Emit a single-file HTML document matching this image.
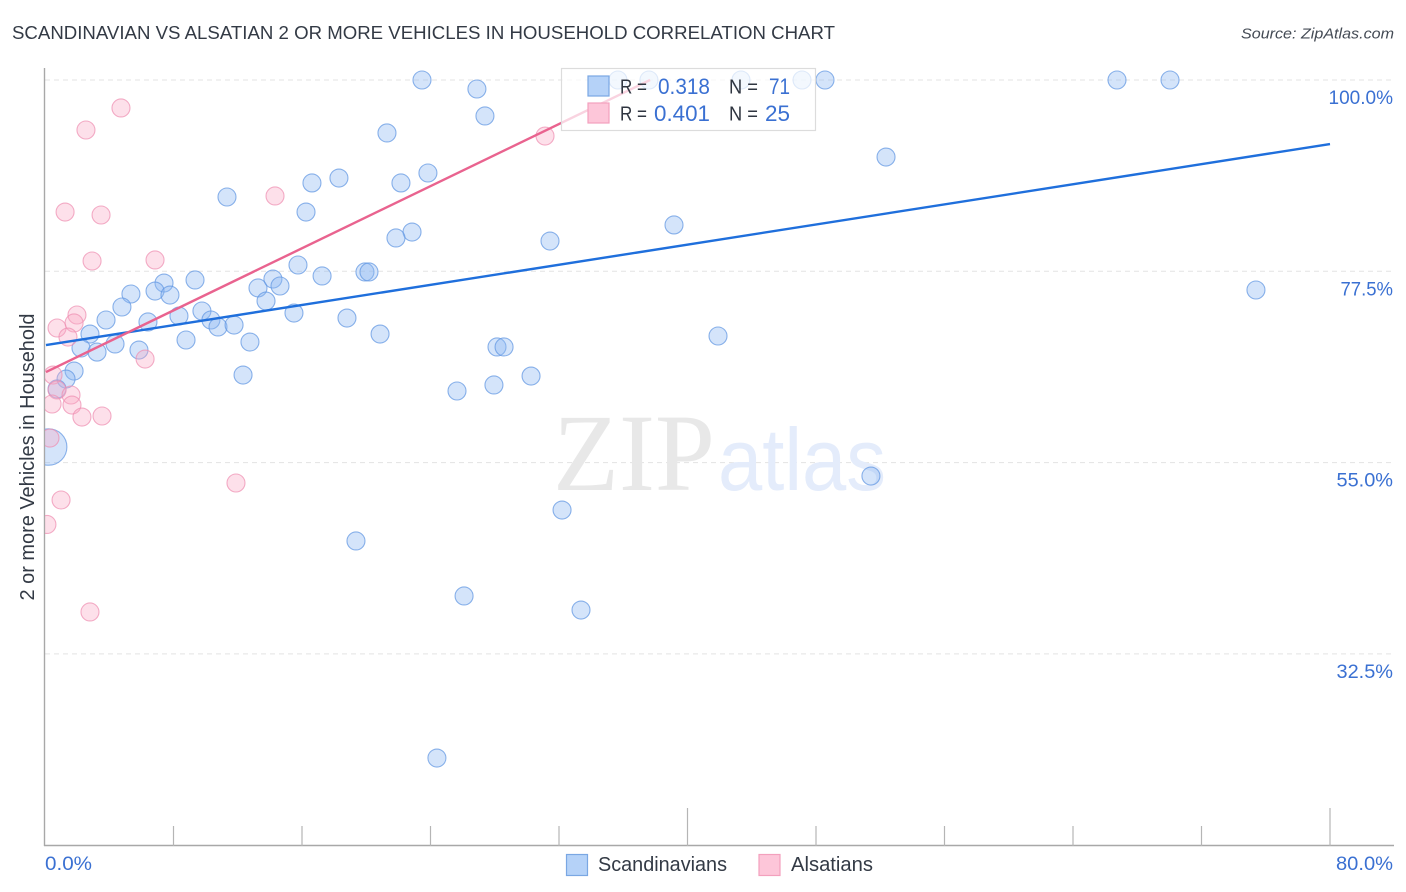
<!DOCTYPE html>
<html lang="en">
<head>
<meta charset="utf-8">
<title>Scandinavian vs Alsatian 2 or more vehicles in household correlation chart</title>
<style>
html,body{margin:0;padding:0;background:#fff;}
svg{display:block;font-family:"Liberation Sans",sans-serif;}
</style>
</head>
<body>
<svg id="chart" xmlns="http://www.w3.org/2000/svg" width="1406" height="892" viewBox="0 0 1406 892">
  <defs>
    <clipPath id="plot-clip"><rect x="45" y="60" width="1349" height="786"/></clipPath>
  </defs>
  <rect x="0" y="0" width="1406" height="892" fill="#ffffff"/>
  <text x="12" y="39" font-size="18.5" fill="#333a45" textLength="823" lengthAdjust="spacingAndGlyphs">SCANDINAVIAN VS ALSATIAN 2 OR MORE VEHICLES IN HOUSEHOLD CORRELATION CHART</text>
  <text x="1394" y="38.5" font-size="15" font-style="italic" fill="#444b55" text-anchor="end" textLength="153" lengthAdjust="spacingAndGlyphs">Source: ZipAtlas.com</text>
  <text transform="translate(34,457) rotate(-90)" font-size="20" fill="#333a45" text-anchor="middle" textLength="287" lengthAdjust="spacingAndGlyphs">2 or more Vehicles in Household</text>

  <g id="grid"></g>

  <g>
    <text x="553" y="490" font-family="'Liberation Serif',serif" font-size="110" fill="#e8e8e8" textLength="162" lengthAdjust="spacingAndGlyphs">ZIP</text>
    <text x="718" y="490" font-size="88" fill="#e4ecfb" textLength="168" lengthAdjust="spacingAndGlyphs">atlas</text>
  </g>

  <g id="axes"></g>
  <g id="points" clip-path="url(#plot-clip)"></g>
  <g id="trends"></g>
  <g id="tick-labels"></g>

  <g>
    <rect x="561.5" y="68.5" width="254" height="62" fill="#ffffff" fill-opacity="0.72" stroke="#dcdcdc" stroke-width="1.2"/>
    <rect x="588" y="76" width="21" height="20" fill="#b5d2f8" stroke="#7aa7e3" stroke-width="1.2"/>
    <rect x="588" y="103" width="21" height="20" fill="#fdc6d9" stroke="#f3a0bd" stroke-width="1.2"/>
    <text x="620" y="93.5" font-size="20" fill="#2f3540" textLength="27" lengthAdjust="spacingAndGlyphs">R =</text>
    <text x="658" y="94" font-size="22" fill="#3a70d2" textLength="52" lengthAdjust="spacingAndGlyphs">0.318</text>
    <text x="729" y="93.5" font-size="20" fill="#2f3540" textLength="29" lengthAdjust="spacingAndGlyphs">N =</text>
    <text x="769" y="94" font-size="22" fill="#3a70d2" textLength="21" lengthAdjust="spacingAndGlyphs">71</text>
    <text x="620" y="120.5" font-size="20" fill="#2f3540" textLength="27" lengthAdjust="spacingAndGlyphs">R =</text>
    <text x="654" y="121" font-size="22" fill="#3a70d2" textLength="56" lengthAdjust="spacingAndGlyphs">0.401</text>
    <text x="729" y="120.5" font-size="20" fill="#2f3540" textLength="29" lengthAdjust="spacingAndGlyphs">N =</text>
    <text x="765" y="121" font-size="22" fill="#3a70d2" textLength="25" lengthAdjust="spacingAndGlyphs">25</text>
  </g>

  <g>
    <rect x="566.5" y="854.5" width="21" height="21" fill="#b5d2f8" stroke="#7aa7e3" stroke-width="1.2"/>
    <text x="598" y="871" font-size="20" fill="#333a45" textLength="129" lengthAdjust="spacingAndGlyphs">Scandinavians</text>
    <rect x="759" y="854.5" width="21" height="21" fill="#fdc6d9" stroke="#f3a0bd" stroke-width="1.2"/>
    <text x="791" y="871" font-size="20" fill="#333a45" textLength="82" lengthAdjust="spacingAndGlyphs">Alsatians</text>
  </g>
</svg>
<script>
const yTickValues = [100, 77.5, 55, 32.5];
const yTickLabels = ["100.0%", "77.5%", "55.0%", "32.5%"];
const xTickValues = [0, 8, 16, 24, 32, 40, 48, 56, 64, 72, 80];
const xMajorTicks = [40, 80];
const xEndLabels = ["0.0%", "80.0%"];

const scandinavianX = [23.47,26.89,27.39,21.29,35.67,37.60,43.33,47.13,48.56,66.74,70.04,52.36,23.84,22.16,18.30,16.62,11.33,16.25,22.85,21.85,31.44,39.16,15.75,17.25,19.92,20.17,9.34,7.41,6.85,7.78,5.35,4.79,13.26,14.19,14.63,13.76,15.50,18.80,20.86,9.77,8.34,6.41,3.80,2.80,10.33,10.77,11.77,8.78,12.76,4.36,2.24,3.24,5.85,1.81,1.31,0.75,28.14,28.58,41.90,75.39,12.33,30.26,27.95,25.65,51.42,32.19,19.36,26.09,33.37,24.40,0.23];
const scandinavianY = [100,98.94,95.77,93.77,100,100,100,100,100,100,100,90.94,89.06,87.89,88.47,87.89,86.24,84.47,82.12,81.42,81.06,82.95,78.24,76.95,77.42,77.42,76.48,76.12,75.18,74.71,74.83,73.30,75.54,76.59,75.77,74.00,72.59,72.00,70.12,72.83,72.24,71.54,71.77,70.12,71.77,70.95,71.18,69.42,69.18,68.95,68.48,68.00,68.24,65.77,64.83,63.66,68.60,68.60,69.89,75.30,65.30,65.18,64.13,63.42,53.42,49.42,45.78,39.31,37.66,20.25,56.83];
const alsatianX = [4.73,2.55,31.13,1.25,3.49,14.32,2.93,6.85,1.99,1.81,0.75,1.43,6.23,0.50,0.75,1.62,0.44,1.68,2.30,3.55,0.31,11.89,1.00,2.80,0.12];
const alsatianY = [96.71,94.12,93.41,84.47,84.12,86.36,78.71,78.83,72.36,71.42,70.83,69.77,67.18,65.30,63.54,62.95,61.89,61.77,60.36,60.48,57.89,52.60,50.60,37.43,47.72];
const largeScandinavianPoint = 70;

const scandinavianTrendX = [0.06, 80];
const scandinavianTrendY = [68.82, 92.47];
const alsatianTrendX = [0.06, 37.67];
const alsatianTrendY = [65.65, 100];

function xScale(v) { return 45 + v * 16.0625; }
function yScale(v) { return 80 + (100 - v) * 8.502; }

function fittedWidth(text) {
  let w = 0;
  for (const ch of text) {
    if (ch === "%") w += 17;
    else if (ch === ".") w += 5;
    else if (ch === "1") w += 8;
    else if (ch === "7") w += 9.5;
    else w += 11.5;
  }
  return w;
}

const NS = "http://www.w3.org/2000/svg";
function make(tag, parentId, attrs) {
  const el = document.createElementNS(NS, tag);
  for (const k in attrs) el.setAttribute(k, attrs[k]);
  document.getElementById(parentId).appendChild(el);
  return el;
}

yTickValues.forEach(function (v, i) {
  const line = make("line", "grid", {x1: 45, x2: 1394, y1: yScale(v), y2: yScale(v), stroke: "#e3e3e3", "stroke-width": 1, "stroke-dasharray": "5 4"});
  
  
  const label = make("text", "tick-labels", {x: 1393, y: yScale(v) + 24, "font-size": 19.5, fill: "#3a70d2", "text-anchor": "end", textLength: fittedWidth(yTickLabels[i]), lengthAdjust: "spacingAndGlyphs"});
  label.textContent = yTickLabels[i];
  
  
});

const yAxis = make("line", "axes", {x1: 44.5, x2: 44.5, y1: 68, y2: 846, stroke: "#a8a8a8", "stroke-width": 1.4});


const xAxis = make("line", "axes", {x1: 44, x2: 1394, y1: 845.5, y2: 845.5, stroke: "#a8a8a8", "stroke-width": 1.4});



xTickValues.slice(1).forEach(function (v) {
  const top = xMajorTicks.indexOf(v) >= 0 ? 808 : 826;
  const tick = make("line", "axes", {x1: xScale(v), x2: xScale(v), y1: top, y2: 846, stroke: "#b5b5b5", "stroke-width": 1.2});
  
  
});

const xLabelLeft = make("text", "tick-labels", {x: 45, y: 870, "font-size": 19.5, fill: "#3a70d2", textLength: 47, lengthAdjust: "spacingAndGlyphs"});
xLabelLeft.textContent = xEndLabels[0];


const xLabelRight = make("text", "tick-labels", {x: 1393, y: 870, "font-size": 19.5, fill: "#3a70d2", "text-anchor": "end", textLength: 57, lengthAdjust: "spacingAndGlyphs"});
xLabelRight.textContent = xEndLabels[1];



scandinavianX.forEach(function (x, i) {
  const r = i === largeScandinavianPoint ? 18.2 : 9;
  const c = make("circle", "points", {cx: xScale(x), cy: yScale(scandinavianY[i]), r: r, fill: "#8db8f2", "fill-opacity": 0.38, stroke: "#5f95e2", "stroke-opacity": 0.72, "stroke-width": 1.1});
  
  
});

alsatianX.forEach(function (x, i) {
  const c = make("circle", "points", {cx: xScale(x), cy: yScale(alsatianY[i]), r: 9, fill: "#f9aac6", "fill-opacity": 0.36, stroke: "#ee8fb1", "stroke-opacity": 0.72, "stroke-width": 1.1});
  
  
});

const blueTrend = make("line", "trends", {x1: xScale(scandinavianTrendX[0]), y1: yScale(scandinavianTrendY[0]), x2: xScale(scandinavianTrendX[1]), y2: yScale(scandinavianTrendY[1]), stroke: "#1f6fdc", "stroke-width": 2.4});


const pinkTrend = make("line", "trends", {x1: xScale(alsatianTrendX[0]), y1: yScale(alsatianTrendY[0]), x2: xScale(alsatianTrendX[1]), y2: yScale(alsatianTrendY[1]), stroke: "#e9638f", "stroke-width": 2.4});


</script>
</body>
</html>
